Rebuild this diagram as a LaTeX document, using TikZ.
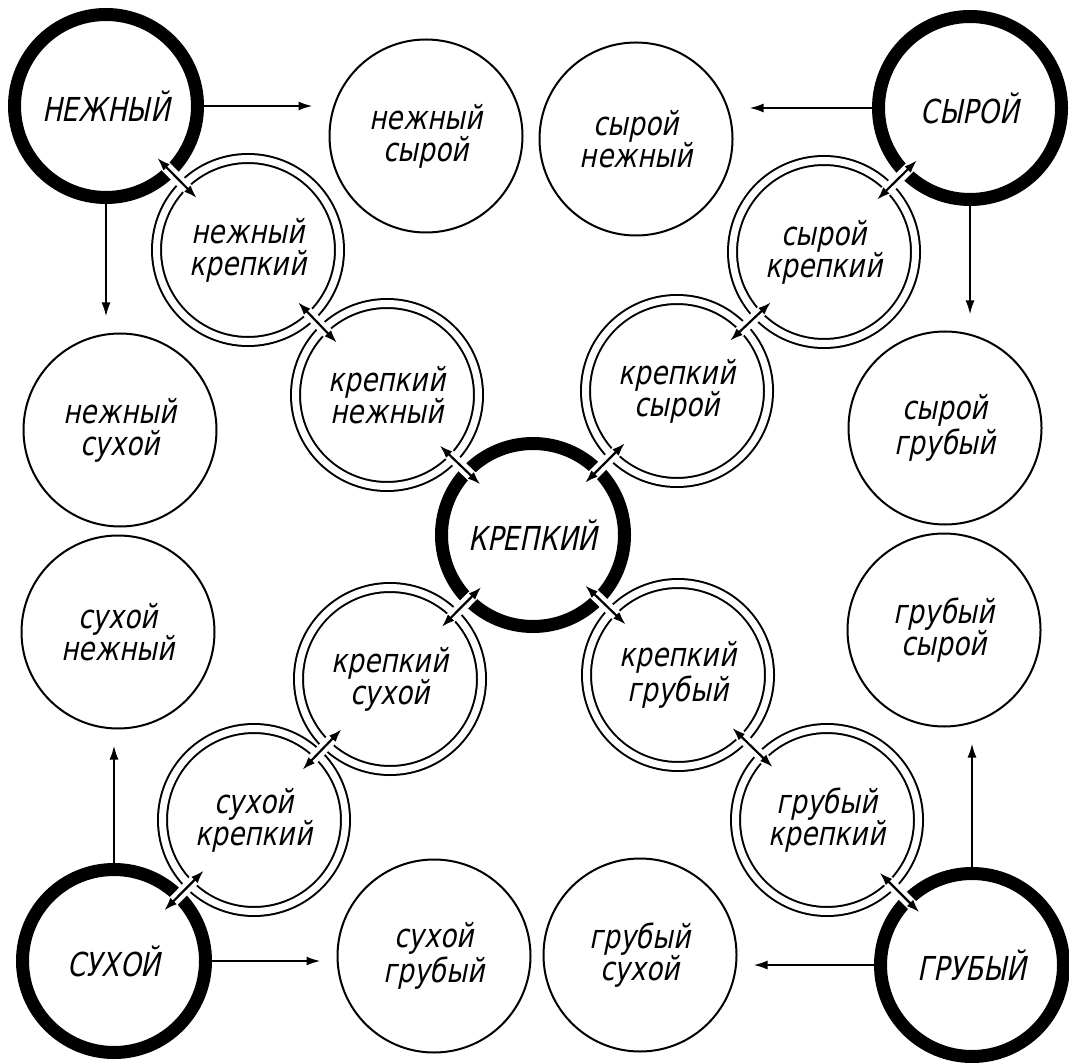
\documentclass[tikz,border=0pt]{standalone}
\usepackage{fontspec}
\setmainfont{DejaVu Sans}[FakeSlant=0.2,FakeStretch=0.8]
\usetikzlibrary{arrows.meta,calc}

\begin{document}
\begin{tikzpicture}[x=0.5pt, y=-0.5pt,
  base/.style={circle, inner sep=0pt, align=center, font=\fontsize{16.5}{16}\selectfont},
  thin/.style={base, draw, minimum size=96.5pt, line width=1pt},
  main/.style={base, draw, minimum size=91.5pt, line width=6.5pt},
  ringed/.style={base, draw, minimum size=91.5pt, line width=1pt, double, double distance=3.5pt},
  gap/.style={draw=white, line width=5.5pt},
  link/.style={draw=black, {Latex[length=6.5pt,width=4.5pt]}-{Latex[length=6.5pt,width=4.5pt]}, line width=1.1pt},
  feed/.style={-{Latex[length=7pt,width=4.5pt]}, line width=1pt, shorten >=8pt}]
  \useasboundingbox (0,0) rectangle (1069,1063);
  % the five words
  \node[main] (nezh) at (106,106) {НЕЖНЫЙ};
  \node[main] (syr)  at (970,108) {СЫРОЙ};
  \node[main] (sukh) at (114,961) {СУХОЙ};
  \node[main] (grub) at (972,965) {ГРУБЫЙ};
  \node[main] (krep) at (533,535) {КРЕПКИЙ};
  % pairs without крепкий
  \node[thin] (nezhsyr)  at (426,136) {нежный\\сырой};
  \node[thin] (syrnezh)  at (636,139) {сырой\\нежный};
  \node[thin] (nezhsukh) at (120,430) {нежный\\сухой};
  \node[thin] (sukhnezh) at (118,632) {сухой\\нежный};
  \node[thin] (syrgrub)  at (945,428) {сырой\\грубый};
  \node[thin] (grubsyr)  at (944,630) {грубый\\сырой};
  \node[thin] (sukhgrub) at (434,956) {сухой\\грубый};
  \node[thin] (grubsukh) at (640,955) {грубый\\сухой};
  % pairs with крепкий
  \node[ringed] (nezhkrep) at (248,250) {нежный\\крепкий};
  \node[ringed] (krepnezh) at (387,395) {крепкий\\нежный};
  \node[ringed] (syrkrep)  at (824,252) {сырой\\крепкий};
  \node[ringed] (krepsyr)  at (677,391) {крепкий\\сырой};
  \node[ringed] (krepsukh) at (390,679) {крепкий\\сухой};
  \node[ringed] (sukhkrep) at (254,820) {сухой\\крепкий};
  \node[ringed] (krepgrub) at (678,675) {крепкий\\грубый};
  \node[ringed] (grubkrep) at (827,820) {грубый\\крепкий};
  % arrows out of the corners
  \draw[feed] (nezh.east)  -- (nezh.east -| nezhsyr.west);
  \draw[feed] (nezh.south) -- (nezh.south |- nezhsukh.north);
  \draw[feed] (syr.west)   -- (syr.west -| syrnezh.east);
  \draw[feed] (syr.south)  -- (syr.south |- syrgrub.north);
  \draw[feed] (sukh.north) -- (sukh.north |- sukhnezh.south);
  \draw[feed] (sukh.east)  -- (sukh.east -| sukhgrub.west);
  \draw[feed] (grub.north) -- (grub.north |- grubsyr.south);
  \draw[feed] (grub.west)  -- (grub.west -| grubsukh.east);
  % two-way arrows along the diagonals, cut through the rings
  \foreach \a/\b in {nezh/nezhkrep, nezhkrep/krepnezh, krepnezh/krep,
                     krep/krepsyr, krepsyr/syrkrep, syrkrep/syr,
                     krep/krepsukh, krepsukh/sukhkrep, sukhkrep/sukh,
                     krep/krepgrub, krepgrub/grubkrep, grubkrep/grub}
  {
    \coordinate (m) at ($(\a)!.5!(\b)$);
    \path[gap] ($(m)!12pt!(\a)$) -- ($(m)!12pt!(\b)$);
    \path[link] ($(m)!14pt!(\a)$) -- ($(m)!14pt!(\b)$);
  }
\end{tikzpicture}
\end{document}
